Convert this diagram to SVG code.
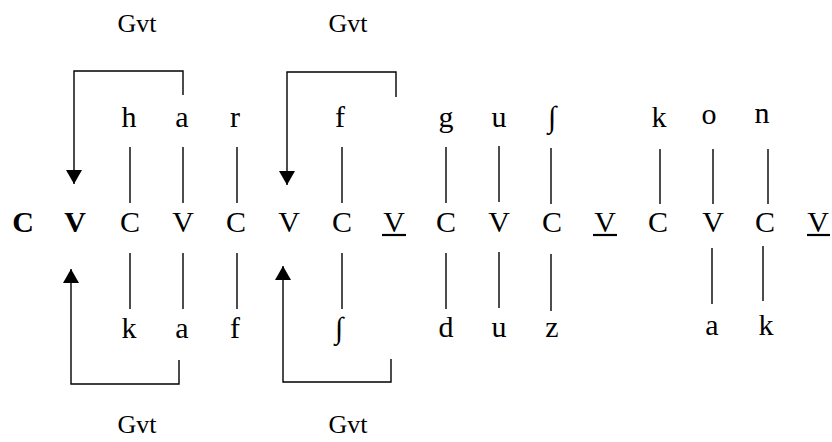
<svg xmlns="http://www.w3.org/2000/svg" width="832" height="442" viewBox="0 0 832 442">
<defs>
<style>
text{font-family:"Liberation Serif","Times New Roman",serif;font-size:30px;fill:#000;text-anchor:middle}
.b{font-weight:bold}
.g{font-size:26px}
line,polyline{stroke:#000;stroke-width:1.4;fill:none}
.u{stroke-width:2.2}
</style>
<marker id="ah" viewBox="0 0 14 16" refX="14" refY="8" markerWidth="14" markerHeight="16" markerUnits="userSpaceOnUse" orient="auto">
<path d="M0,0 L14,8 L0,16 z" fill="#000"/>
</marker>
</defs>
<rect width="832" height="442" fill="#fff"/>
<g id="skeleton">
<text class="b" x="23" y="232">C</text>
<text class="b" x="75" y="232">V</text>
<text x="130" y="232">C</text>
<text x="183" y="232">V</text>
<text x="236" y="232">C</text>
<text x="289" y="232">V</text>
<text x="342" y="232">C</text>
<text x="394" y="232">V</text>
<text x="446" y="232">C</text>
<text x="499" y="232">V</text>
<text x="552" y="232">C</text>
<text x="605" y="232">V</text>
<text x="658" y="232">C</text>
<text x="713" y="232">V</text>
<text x="765" y="232">C</text>
<text x="818" y="232">V</text>
<line class="u" x1="382" y1="235" x2="406" y2="235"/>
<line class="u" x1="593" y1="235" x2="617" y2="235"/>
<line class="u" x1="807" y1="235" x2="830" y2="235"/>
</g>
<g id="upper">
<text x="129" y="127">h</text>
<text x="182" y="127">a</text>
<text x="235" y="127">r</text>
<text x="340" y="127">f</text>
<text x="446" y="127">g</text>
<text x="499" y="127">u</text>
<text x="552" y="127">∫</text>
<text x="659" y="127">k</text>
<text x="709" y="124">o</text>
<text x="762" y="123">n</text>
</g>
<g id="lower">
<text x="129" y="338">k</text>
<text x="182" y="338">a</text>
<text x="235" y="338">f</text>
<text x="339" y="338">∫</text>
<text x="446" y="337">d</text>
<text x="499" y="337">u</text>
<text x="552" y="337">z</text>
<text x="712" y="335">a</text>
<text x="766" y="335">k</text>
</g>
<g id="labels">
<text class="g" x="137" y="32">Gvt</text>
<text class="g" x="348" y="32">Gvt</text>
<text class="g" x="137" y="433">Gvt</text>
<text class="g" x="348" y="433">Gvt</text>
</g>
<g id="connectors">
<line x1="130" y1="147" x2="130" y2="203"/>
<line x1="183" y1="147" x2="183" y2="203"/>
<line x1="237" y1="147" x2="237" y2="203"/>
<line x1="342" y1="147" x2="342" y2="203"/>
<line x1="446" y1="147" x2="446" y2="203"/>
<line x1="499" y1="146" x2="499" y2="202"/>
<line x1="551" y1="148" x2="551" y2="204"/>
<line x1="660" y1="149" x2="660" y2="204"/>
<line x1="713" y1="149" x2="713" y2="204"/>
<line x1="768" y1="149" x2="768" y2="204"/>
<line x1="130" y1="253" x2="130" y2="309"/>
<line x1="183" y1="253" x2="183" y2="309"/>
<line x1="237" y1="253" x2="237" y2="309"/>
<line x1="342" y1="253" x2="342" y2="309"/>
<line x1="446" y1="253" x2="446" y2="309"/>
<line x1="499" y1="252" x2="499" y2="308"/>
<line x1="551" y1="254" x2="551" y2="311"/>
<line x1="712" y1="248" x2="712" y2="304"/>
<line x1="763" y1="246" x2="763" y2="301"/>
<polyline points="183,95 183,71 74,71 74,184" marker-end="url(#ah)"/>
<polyline points="396,97 396,72 287,72 287,185" marker-end="url(#ah)"/>
<polyline points="179,360 179,384 71,384 71,269" marker-end="url(#ah)"/>
<polyline points="391,359 391,382 283,382 283,266" marker-end="url(#ah)"/>
</g>
</svg>
